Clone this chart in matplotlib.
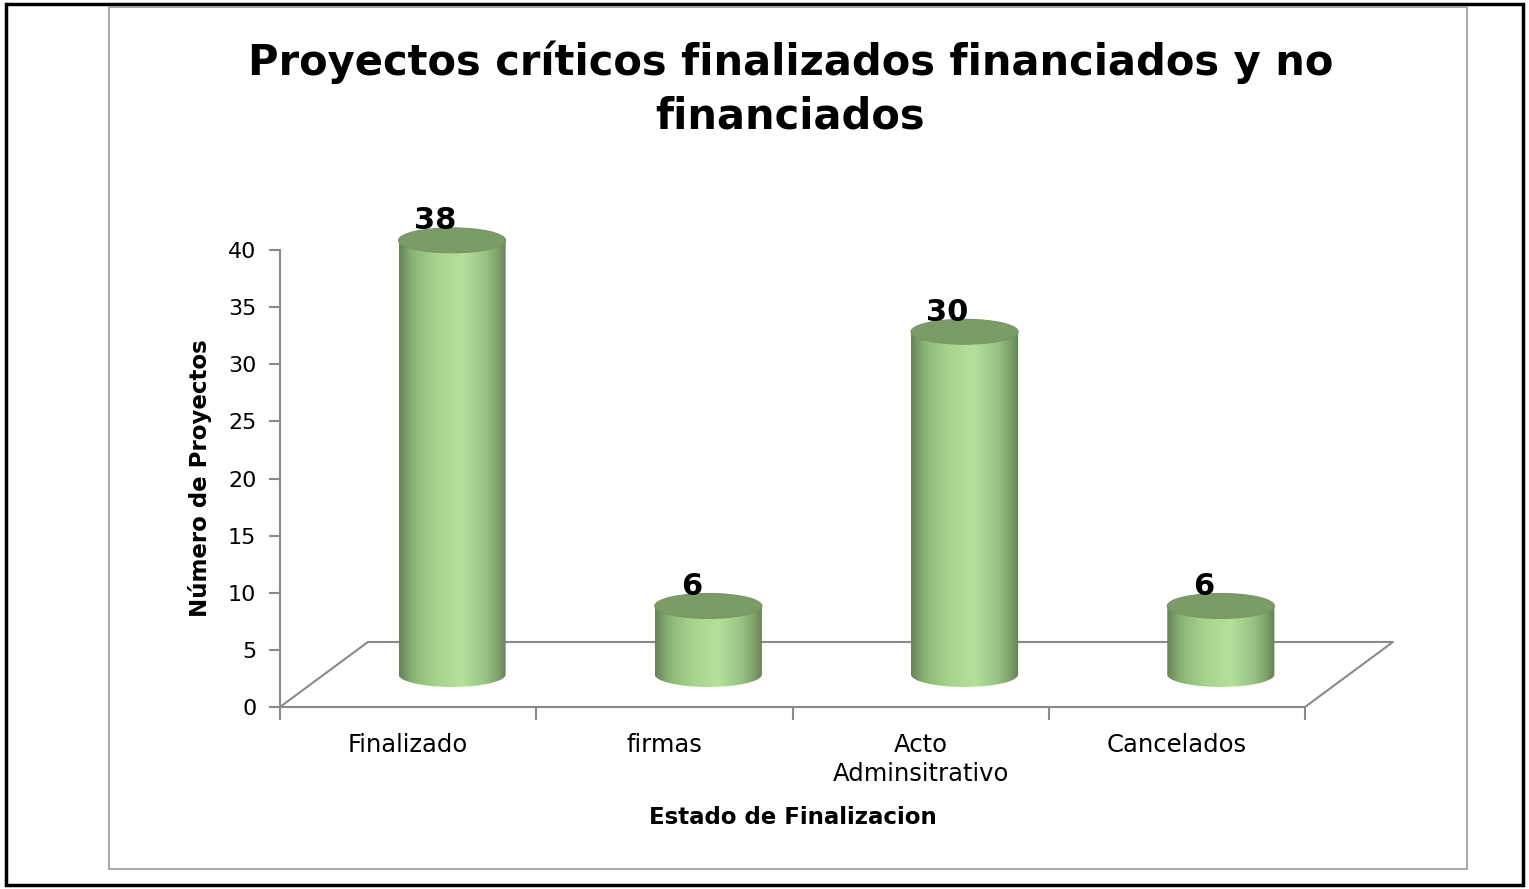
import numpy as np
import matplotlib
matplotlib.use('Agg')
import matplotlib.pyplot as plt
from matplotlib.colors import LinearSegmentedColormap
from matplotlib.patches import Ellipse, Polygon, Rectangle

categories = ['Finalizado', 'firmas', 'Acto\nAdminsitrativo', 'Cancelados']
values = [38, 6, 30, 6]
yticks = [0, 5, 10, 15, 20, 25, 30, 35, 40]

title = 'Proyectos críticos finalizados financiados y no\nfinanciados'
xlabel = 'Estado de Finalizacion'
ylabel = 'Número de Proyectos'

# pseudo-3d geometry (data units)
depth_x, depth_y = 0.343, 5.69      # floor depth offset
rx, ry = 0.209, 1.09                # cylinder radius / ellipse half-height
ymax_axis, ymax_room = 40, 45       # drawn axis range / headroom for the cylinder tops
grey = '#8a8a8a'

body_cmap = LinearSegmentedColormap.from_list('body', [
    (0.0, '#64825a'), (0.12, '#8ab473'), (0.35, '#a8d38f'), (0.58, '#b5e09c'),
    (0.8, '#9ac484'), (0.93, '#7d9e68'), (1.0, '#64805a')])

plt.rcParams['font.family'] = 'DejaVu Sans'
fig = plt.figure(figsize=(15.29, 8.89), dpi=100)

# outer frame and chart area border
fig.patches.append(Rectangle((0.004, 0.005), 0.992, 0.99, transform=fig.transFigure,
                             fill=False, ec='black', lw=2.5))
fig.patches.append(Rectangle((0.0715, 0.022), 0.888, 0.97, transform=fig.transFigure,
                             fill=False, ec='#9a9a9a', lw=1.2))

px_per_unit = 457 / ymax_axis
ax = fig.add_axes([280/1529, (889-707)/889, 1025/1529, ymax_room*px_per_unit/889])
ax.patch.set_visible(False)
for s in ['top', 'right']:
    ax.spines[s].set_visible(False)
for s in ['left', 'bottom']:
    ax.spines[s].set_color(grey)
    ax.spines[s].set_linewidth(1.5)
ax.spines['left'].set_bounds(0, ymax_axis)

ax.set_yticks(yticks)
ax.tick_params(axis='y', direction='out', length=8, width=1.5, color=grey,
               labelsize=16, pad=9)
ax.set_xticks(np.arange(-0.5, len(categories), 1.0))
ax.set_xticklabels([])
ax.tick_params(axis='x', which='major', direction='out', length=9, width=1.5, color=grey)
ax.set_xticks(np.arange(len(categories)), minor=True)
ax.set_xticklabels(categories, minor=True, fontsize=17.5, linespacing=1.25)
ax.tick_params(axis='x', which='minor', length=0, pad=19)

ax.set_xlabel(xlabel, fontsize=16.5, fontweight='bold', labelpad=14)
ax.set_ylabel(ylabel, fontsize=16.5, fontweight='bold')
ax.yaxis.set_label_coords(-0.066, (ymax_axis/2)/ymax_room)

# floor parallelogram
floor = [(-0.5, 0), (-0.5 + depth_x, depth_y), (3.5 + depth_x, depth_y), (3.5, 0)]
ax.plot([p[0] for p in floor], [p[1] for p in floor], color=grey, lw=1.5,
        clip_on=False, zorder=1)

t = np.linspace(np.pi, 2*np.pi, 60)
for i, v in enumerate(values):
    cx = i + depth_x/2
    base = depth_y/2
    top = base + v
    # cylinder body: rectangle with rounded bottom
    xs = np.concatenate([cx + rx*np.cos(t), [cx + rx, cx - rx]])
    ys = np.concatenate([base + ry*np.sin(t), [top, top]])
    body = Polygon(np.column_stack([xs, ys]), closed=True, fc='none', ec='none',
                   transform=ax.transData)
    ax.add_patch(body)
    im = ax.imshow(np.linspace(0, 1, 200)[None, :], cmap=body_cmap, aspect='auto',
                   extent=[cx - rx, cx + rx, base - ry, top], zorder=3,
                   interpolation='bicubic')
    im.set_clip_path(body)
    ax.add_patch(Ellipse((cx, top), 2*rx, 2*ry, fc='#7c9c67', ec='#769661',
                         lw=0.8, zorder=4, clip_on=False))
    ax.text(cx - 0.066, top + 1.7, str(v), ha='center', va='center', fontsize=22,
            fontweight='bold', zorder=5, clip_on=False)

ax.set_xlim(-0.5, 3.5)
ax.set_ylim(0, ymax_room)

fig.text(0.517, 0.900, title, ha='center', va='center', fontsize=30,
         fontweight='bold', linespacing=1.36)

fig.savefig('out.png', dpi=100)
